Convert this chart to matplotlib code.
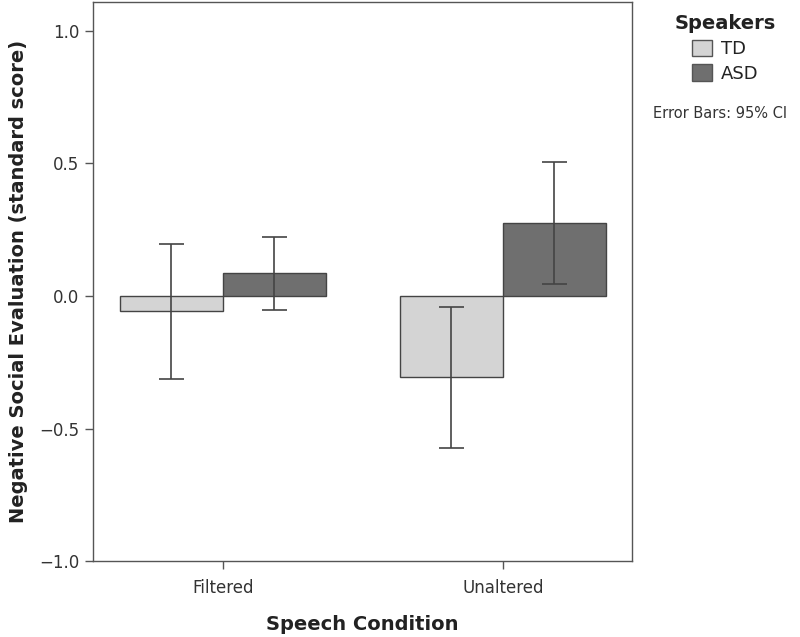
import numpy as np
import matplotlib.pyplot as plt
from matplotlib.patches import Patch

conditions = ['Filtered', 'Unaltered']
speakers = ['TD', 'ASD']
td_means = [-0.057, -0.306]
asd_means = [0.087, 0.275]
td_ci_low = [-0.313, -0.574]
td_ci_high = [0.196, -0.040]
asd_ci_low = [-0.053, 0.045]
asd_ci_high = [0.223, 0.506]
yticks = [-1.0, -0.5, 0.0, 0.5, 1.0]

COLORS = {'TD': '#d4d4d4', 'ASD': '#6f6f6f'}
EDGE = '#444444'
TEXT = '#333333'

fig = plt.figure(figsize=(8.0, 6.37), dpi=100)
ax = fig.add_axes([0.116, 0.119, 0.674, 0.878])

x = np.arange(len(conditions))
width = 0.368

for means, lo, hi, name, offset in [(td_means, td_ci_low, td_ci_high, 'TD', -width / 2),
                                    (asd_means, asd_ci_low, asd_ci_high, 'ASD', width / 2)]:
    means = np.array(means)
    err = [means - np.array(lo), np.array(hi) - means]
    ax.bar(x + offset, means, width, color=COLORS[name], edgecolor=EDGE, linewidth=1.0, zorder=2)
    ax.errorbar(x + offset, means, yerr=err, fmt='none', ecolor=EDGE, elinewidth=1.2,
                capsize=9, capthick=1.2, zorder=3)

ax.set_xlim(-0.464, 1.461)
ax.set_ylim(-1.0, 1.109)
ax.set_xticks(x)
ax.set_xticklabels(conditions)
ax.set_yticks(yticks)
ax.set_yticklabels(['\u22121.0', '\u22120.5', '0.0', '0.5', '1.0'])
ax.tick_params(axis='both', direction='out', length=6, width=1, color='#555555',
               labelsize=12, labelcolor=TEXT, top=False, right=False)
ax.tick_params(axis='x', pad=7)
for s in ax.spines.values():
    s.set_color('#555555')
    s.set_linewidth(1.0)

ax.set_xlabel('Speech Condition', fontsize=14, fontweight='bold', color='#222222', labelpad=13)
ax.set_ylabel('Negative Social Evaluation (standard score)', fontsize=14, fontweight='bold',
              color='#222222', labelpad=8)

handles = [Patch(facecolor=COLORS[s], edgecolor='#555555', linewidth=1.0) for s in speakers]
leg = fig.legend(handles, speakers, loc='upper center', bbox_to_anchor=(725 / 800, 1.0),
                 frameon=False, fontsize=13, title='Speakers', alignment='center',
                 handlelength=1.1, handleheight=1.0, handletextpad=0.5, labelspacing=0.35,
                 borderpad=0.3)
leg.get_title().set_fontweight('bold')
leg.get_title().set_fontsize(14)
leg.get_title().set_color('#222222')
for t in leg.get_texts():
    t.set_color('#222222')

fig.text(720 / 800, 1 - 113 / 637, 'Error Bars: 95% CI', fontsize=10.5, color=TEXT,
         ha='center', va='center')

fig.savefig('out.png', dpi=100)
